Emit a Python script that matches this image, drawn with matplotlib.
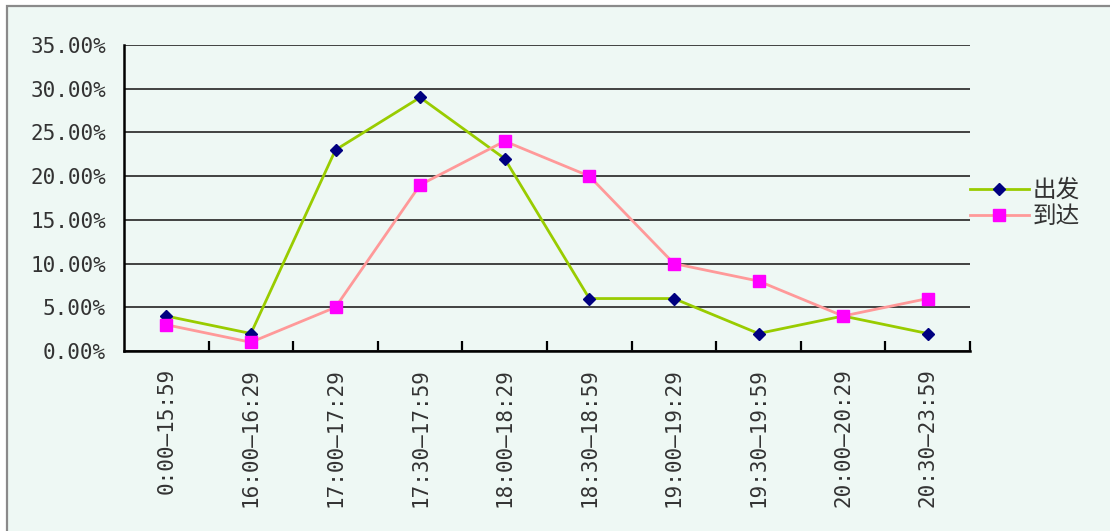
import matplotlib
matplotlib.use("Agg")
import matplotlib.pyplot as plt
from matplotlib.patches import Rectangle
from matplotlib.ticker import FixedLocator, PercentFormatter

categories = ["0:00—15:59", "16:00—16:29", "17:00—17:29", "17:30—17:59", "18:00—18:29",
              "18:30—18:59", "19:00—19:29", "19:30—19:59", "20:00—20:29", "20:30—23:59"]
depart = [4, 2, 23, 29, 22, 6, 6, 2, 4, 2]
arrive = [3, 1, 5, 19, 24, 20, 10, 8, 4, 6]
series_names = ["出发", "到达"]
yticks = [0, 5, 10, 15, 20, 25, 30, 35]

W, H = 1110, 531
fig = plt.figure(figsize=(W / 100, H / 100), dpi=100)
fig.patch.set_facecolor("white")
bg = "#EEF8F4"
border = Rectangle((7 / W, -0.05), 1.2, 1 - 6 / H + 0.05, transform=fig.transFigure,
                   facecolor=bg, edgecolor="#8a8a8a", linewidth=1.6, zorder=-5)
fig.add_artist(border)

ax = fig.add_axes([124 / W, 1 - 351 / H, (970 - 124) / W, (351 - 45) / H])
ax.set_zorder(1)
ax.patch.set_alpha(0)

x = list(range(len(categories)))
ax.plot(x, depart, color="#99CC00", lw=2.0, marker="D", markersize=6.5,
        markerfacecolor="#000080", markeredgecolor="#000080", label=series_names[0], zorder=3)
ax.plot(x, arrive, color="#FF9999", lw=2.0, marker="s", markersize=8,
        markerfacecolor="#FF00FF", markeredgecolor="#FF00FF", label=series_names[1], zorder=3)

ax.set_xlim(-0.5, len(categories) - 0.5)
ax.set_ylim(0, 35)
ax.set_yticks(yticks)
ax.yaxis.set_major_formatter(PercentFormatter(decimals=2))
ax.yaxis.grid(True, color="#333333", lw=1.3)
ax.set_axisbelow(True)
ax.tick_params(axis="y", length=0, pad=13, labelsize=15, labelcolor="#333333")
for lab in ax.get_yticklabels():
    lab.set_family("DejaVu Sans Mono")

ax.set_xticks(x)
ax.set_xticklabels(categories, rotation=90, fontsize=15, color="#333333", family="DejaVu Sans Mono")
ax.tick_params(axis="x", which="major", length=0, pad=12)
ax.xaxis.set_minor_locator(FixedLocator([i + 0.5 for i in x]))
ax.tick_params(axis="x", which="minor", direction="in", length=7, width=1.6, color="black")

for s in ["top", "right"]:
    ax.spines[s].set_visible(False)
for s in ["left", "bottom"]:
    ax.spines[s].set_color("black")
    ax.spines[s].set_linewidth(1.8)

leg = fig.legend(loc="upper left", bbox_to_anchor=(958 / W, 1 - 167 / H), frameon=False,
                 prop={"family": ["Noto Sans CJK SC", "DejaVu Sans"], "size": 17},
                 handlelength=2.5, handletextpad=0.15, labelspacing=0.15, borderpad=0)
for t in leg.get_texts():
    t.set_color("#333333")

fig.savefig("out.png", dpi=100, facecolor=fig.get_facecolor())
